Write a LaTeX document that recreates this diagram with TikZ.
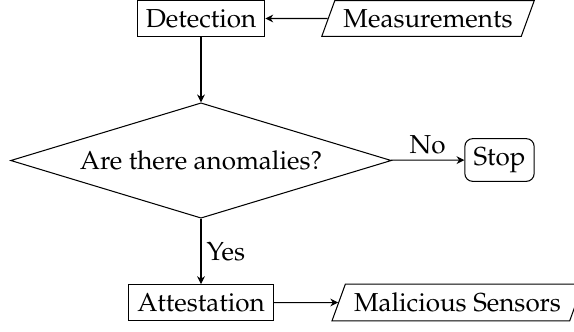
\documentclass[tikz,border=0pt]{standalone}
\usepackage[T1]{fontenc}
\usepackage{mathpazo}
\usetikzlibrary{shapes.geometric,arrows.meta}
\begin{document}
\begin{tikzpicture}[x=0.3846pt,y=-0.3846pt,
  process/.style={draw, rectangle, inner sep=0.3333em},
  io/.style={draw, trapezium, trapezium left angle=70, trapezium right angle=110},
  decision/.style={draw, diamond, aspect=3.3},
  terminal/.style={draw, rectangle, rounded corners=3pt},
  flow/.style={-{Stealth[length=3pt,width=3pt]}},
  lbl/.style={inner sep=2pt}]
\useasboundingbox (0,0) rectangle (574,331);

% boxes of the flow
\node[process]  (det)  at (201,18.5)  {Detection};
\node[io]       (meas) at (428,18.5)  {Measurements};
\node[decision] (dec)  at (201,160.5) {Are there anomalies?};
\node[terminal] (stop) at (499.5,160) {Stop};
\node[process]  (att)  at (201,302.5) {Attestation};
\node[io]       (mal)  at (457.5,302.5) {Malicious Sensors};

% connectors
\draw[flow] (meas) -- (det);
\draw[flow] (det) -- (dec);
\draw[flow] (dec) -- node[lbl, midway, above] {No} (stop);
\draw[flow] (dec) -- node[lbl, midway, right] {Yes} (att);
\draw[flow] (att) -- (mal);
\end{tikzpicture}
\end{document}
